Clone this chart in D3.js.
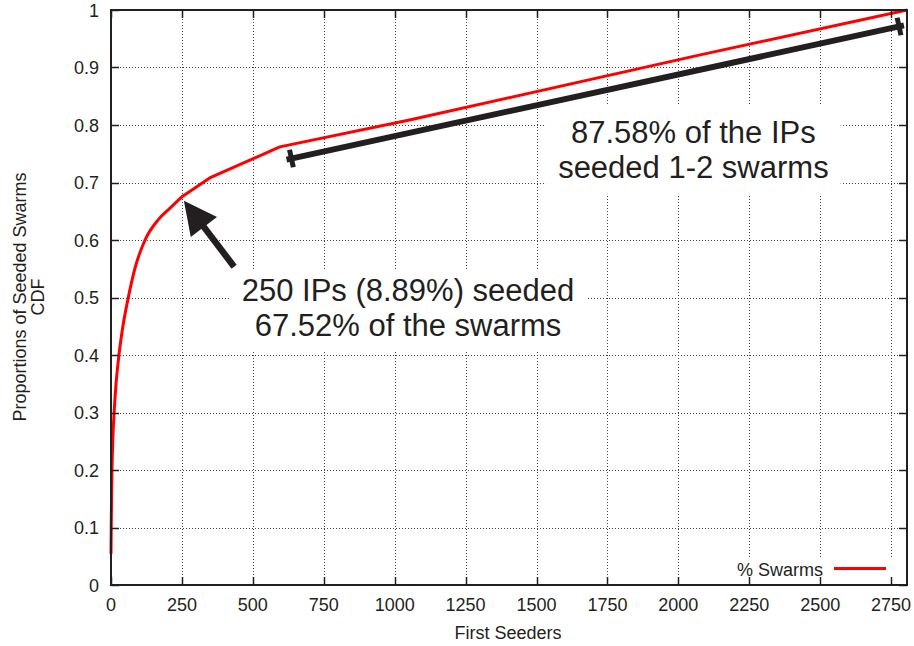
<!DOCTYPE html>
<html>
<head>
<meta charset="utf-8">
<script src="https://cdn.jsdelivr.net/npm/d3@7"></script>
<style>
  html, body { margin: 0; padding: 0; background: #fff; }
  svg { display: block; font-family: "Liberation Sans", Arial, Helvetica, sans-serif; }
</style>
</head>
<body>
<svg id="chart" width="914" height="646"></svg>
<script>
// CDF of seeded swarms against the number of first seeders (IPs)
const seeders    = [0, 1, 2, 3.5, 7, 11, 17, 28, 42, 61, 84, 120, 166, 207, 250, 348, 595, 1056, 2077, 2806];
const proportion = [0.054, 0.11, 0.15, 0.20, 0.26, 0.30, 0.345, 0.40, 0.45, 0.50, 0.55, 0.60, 0.635, 0.655, 0.6752, 0.708, 0.762, 0.809, 0.922, 1.0];

const xTicks = [0, 250, 500, 750, 1000, 1250, 1500, 1750, 2000, 2250, 2500, 2750];
const yTicks = [0, 0.1, 0.2, 0.3, 0.4, 0.5, 0.6, 0.7, 0.8, 0.9, 1];
const yTickLabels = ["0", "0.1", "0.2", "0.3", "0.4", "0.5", "0.6", "0.7", "0.8", "0.9", "1"];

const seriesName = "% Swarms";
const xTitle = "First Seeders";
const yTitleLines = ["Proportions of Seeded Swarms", "CDF"];

// annotations (data coordinates)
const spanStart = [636, 0.7417];
const spanEnd   = [2778, 0.9713];
const arrowTail = [434, 0.5536];
const arrowTip  = [257, 0.6683];
const noteTopLines = ["87.58% of the IPs", "seeded 1-2 swarms"];
const noteTopAt = [2053, 0.7692];
const noteMidLines = ["250 IPs (8.89%) seeded", "67.52% of the swarms"];
const noteMidAt = [1047, 0.4939];

const margin = { left: 111, top: 10, right: 7, bottom: 61 };
const W = 914, H = 646;
const pw = W - margin.left - margin.right;
const ph = H - margin.top - margin.bottom;

const x = d3.scaleLinear().domain([0, 2806]).range([0, pw]);
const y = d3.scaleLinear().domain([0, 1]).range([ph, 0]);

const svg = d3.select("#chart");
const g = svg.append("g").attr("transform", `translate(${margin.left},${margin.top})`);

const ink = "#231f20";

// grid
const grid = g.append("g").attr("stroke", "#444").attr("stroke-width", 1).attr("stroke-dasharray", "1,2");
grid.selectAll("line.gx").data(xTicks.filter(d => d > 0)).join("line")
  .attr("x1", d => Math.round(x(d)) + 0.5).attr("x2", d => Math.round(x(d)) + 0.5)
  .attr("y1", 0).attr("y2", ph);
grid.selectAll("line.gy").data(yTicks.filter(d => d > 0 && d < 1)).join("line")
  .attr("y1", d => Math.round(y(d)) + 0.5).attr("y2", d => Math.round(y(d)) + 0.5)
  .attr("x1", 0).attr("x2", pw);

// legend box
const legX = 823 - margin.left, legY = 576 - margin.top;
g.append("rect").attr("x", legX - 93).attr("y", legY - 19).attr("width", 170).attr("height", 27).attr("fill", "#fff");

// text notes with white boxes
function note(lines, at, padTop) {
  const ng = g.append("g");
  const box = ng.append("rect").attr("fill", "#fff");
  const t = ng.append("text")
    .attr("x", x(at[0])).attr("y", y(at[1]))
    .attr("text-anchor", "middle").attr("font-size", 31).attr("fill", ink);
  lines.forEach((s, i) => t.append("tspan").attr("x", x(at[0])).attr("dy", i ? 35 : 0).text(s));
  const b = t.node().getBBox();
  box.attr("x", b.x - 12).attr("y", b.y - padTop).attr("width", b.width + 24).attr("height", b.height + padTop + 9);
}
note(noteMidLines, noteMidAt, 3);
note(noteTopLines, noteTopAt, 10);

// CDF curve: smooth through the steep head, straight segments for the tail
const pts = seeders.map((s, i) => [x(s), y(proportion[i])]);
const split = seeders.indexOf(250);
const headPath = d3.line().curve(d3.curveMonotoneX)(pts.slice(0, split + 1));
const tailPath = pts.slice(split + 1).map(p => `L${p[0]},${p[1]}`).join("");
g.append("path").attr("d", headPath + tailPath)
  .attr("fill", "none").attr("stroke", "#ff0000").attr("stroke-width", 3).attr("stroke-linejoin", "round");

// span bar with perpendicular end marks
{
  const ax = x(spanStart[0]), ay = y(spanStart[1]);
  const bx = x(spanEnd[0]), by = y(spanEnd[1]);
  const len = Math.hypot(bx - ax, by - ay);
  const ux = (bx - ax) / len, uy = (by - ay) / len;
  const nx = -uy, ny = ux;
  const sg = g.append("g").attr("stroke", ink).attr("stroke-width", 6);
  sg.append("line").attr("x1", ax - ux * 5).attr("y1", ay - uy * 5).attr("x2", bx + ux * 5).attr("y2", by + uy * 5);
  [[ax, ay], [bx, by]].forEach(([px, py]) => {
    sg.append("line").attr("stroke-width", 5)
      .attr("x1", px - nx * 9).attr("y1", py - ny * 9).attr("x2", px + nx * 9).attr("y2", py + ny * 9);
  });
}

// arrow pointing at the 250-seeder point
{
  const tx = x(arrowTail[0]), ty = y(arrowTail[1]);
  const hx = x(arrowTip[0]), hy = y(arrowTip[1]);
  const len = Math.hypot(hx - tx, hy - ty);
  const ux = (hx - tx) / len, uy = (hy - ty) / len;
  const nx = -uy, ny = ux;
  const headLen = 33, headHalf = 16.5;
  const bx = hx - ux * headLen, by = hy - uy * headLen;
  g.append("line").attr("x1", tx).attr("y1", ty).attr("x2", bx + ux * 2).attr("y2", by + uy * 2)
    .attr("stroke", ink).attr("stroke-width", 6.5);
  g.append("path")
    .attr("d", `M${hx},${hy}L${bx + nx * headHalf},${by + ny * headHalf}L${bx - nx * headHalf},${by - ny * headHalf}Z`)
    .attr("fill", ink);
}

// legend entry
g.append("text").attr("x", legX).attr("y", legY).attr("text-anchor", "end")
  .attr("font-size", 18).attr("fill", ink).text(seriesName);
g.append("line").attr("x1", legX + 11).attr("x2", legX + 63).attr("y1", legY - 7.5).attr("y2", legY - 7.5)
  .attr("stroke", "#ff0000").attr("stroke-width", 3);

// frame and ticks (mirrored, pointing inward)
const axisG = g.append("g").attr("stroke", ink);
axisG.append("rect").attr("x", 0).attr("y", 0).attr("width", pw).attr("height", ph)
  .attr("fill", "none").attr("stroke-width", 2);
const tl = 8;
xTicks.forEach(d => {
  const px = Math.round(x(d)) + 0.5;
  axisG.append("line").attr("x1", px).attr("x2", px).attr("y1", ph).attr("y2", ph - tl).attr("stroke-width", 1.5);
  axisG.append("line").attr("x1", px).attr("x2", px).attr("y1", 0).attr("y2", tl).attr("stroke-width", 1.5);
});
yTicks.forEach(d => {
  const py = Math.round(y(d)) + 0.5;
  axisG.append("line").attr("y1", py).attr("y2", py).attr("x1", 0).attr("x2", tl).attr("stroke-width", 1.5);
  axisG.append("line").attr("y1", py).attr("y2", py).attr("x1", pw).attr("x2", pw - tl).attr("stroke-width", 1.5);
});

// tick labels
g.append("g").selectAll("text").data(xTicks).join("text")
  .attr("x", d => x(d)).attr("y", ph + 26).attr("text-anchor", "middle")
  .attr("font-size", 18).attr("fill", ink).text(d => d);
g.append("g").selectAll("text").data(yTicks).join("text")
  .attr("x", -12).attr("y", d => y(d) + 6.5).attr("text-anchor", "end")
  .attr("font-size", 18).attr("fill", ink).text((d, i) => yTickLabels[i]);

// axis titles
svg.append("text").attr("x", margin.left + pw / 2 - 1).attr("y", 638.5).attr("text-anchor", "middle")
  .attr("font-size", 18).attr("fill", ink).text(xTitle);
const yt = svg.append("text").attr("transform", "translate(25.5,297) rotate(-90)")
  .attr("text-anchor", "middle").attr("font-size", 18).attr("fill", ink);
yTitleLines.forEach((s, i) => yt.append("tspan").attr("x", 0).attr("dy", i ? 18 : 0).text(s));
</script>
</body>
</html>
